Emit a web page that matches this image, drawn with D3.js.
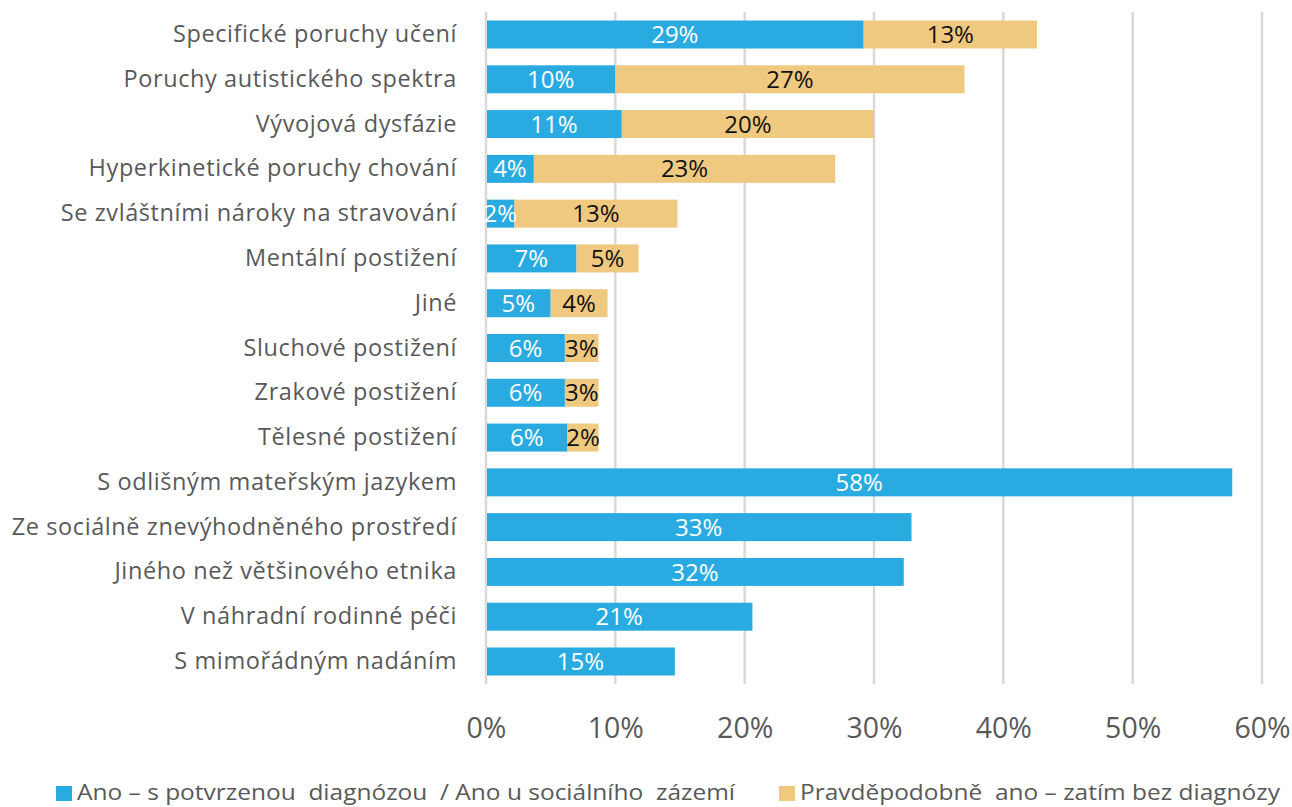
<!DOCTYPE html>
<html><head><meta charset="utf-8">
<script src="https://cdn.jsdelivr.net/npm/d3@7"></script>
<style>body{margin:0;background:#fff;}svg{display:block;}text{font-family:"Open Sans",sans-serif;}</style>
</head><body>
<svg id="c" width="1292" height="807"></svg>
<script>
const categories = ["Specifické poruchy učení","Poruchy autistického spektra","Vývojová dysfázie","Hyperkinetické poruchy chování","Se zvláštními nároky na stravování","Mentální postižení","Jiné","Sluchové postižení","Zrakové postižení","Tělesné postižení","S odlišným mateřským jazykem","Ze sociálně znevýhodněného prostředí","Jiného než většinového etnika","V náhradní rodinné péči","S mimořádným nadáním"];
const confirmed = [29.2,10.0,10.5,3.7,2.2,7.0,5.0,6.1,6.1,6.3,57.7,32.9,32.3,20.6,14.6];
const probable = [13.4,27.0,19.5,23.3,12.6,4.8,4.4,2.6,2.6,2.4,null,null,null,null,null];
const seriesNames = ["Ano – s potvrzenou  diagnózou  / Ano u sociálního  zázemí","Pravděpodobně  ano – zatím bez diagnózy"];
const ticks = [0,10,20,30,40,50,60];
const colors = ["#29abe2","#f0c981"];

const svg = d3.select("#c");
const x = d3.scaleLinear().domain([0,60]).range([486,1262]);
const y = d3.scaleBand().domain(categories).range([12,684]).paddingInner(0.375).paddingOuter(0.19);

svg.append("g").selectAll("line").data(ticks).join("line")
  .attr("x1",d=>x(d)).attr("x2",d=>x(d)).attr("y1",12).attr("y2",684)
  .attr("stroke","#d9d9d9").attr("stroke-width",2.5);

const xa = svg.append("g").attr("transform","translate(0,700)").call(d3.axisBottom(x).tickValues(ticks).tickFormat(d=>d+"%").tickSize(0).tickPadding(18));
xa.select(".domain").remove();
xa.selectAll("text").attr("font-size",28.5).attr("fill","#595959").style("font-family","'Open Sans',sans-serif");

const ya = svg.append("g").attr("transform","translate(457,0)").call(d3.axisLeft(y).tickSize(0).tickPadding(0));
ya.select(".domain").remove();
ya.selectAll("text").attr("font-size",23.5).attr("fill","#595959").attr("letter-spacing",0.6).style("font-family","'Open Sans',sans-serif");

const rows = categories.map((c,i)=>({c,a:confirmed[i],b:probable[i]}));
const g = svg.append("g");
g.selectAll("rect.a").data(rows).join("rect").attr("class","a")
  .attr("x",x(0)+1).attr("y",d=>y(d.c)).attr("width",d=>x(d.a)-x(0)-1).attr("height",y.bandwidth()).attr("fill",colors[0]);
g.selectAll("rect.b").data(rows.filter(d=>d.b!=null)).join("rect").attr("class","b")
  .attr("x",d=>x(d.a)).attr("y",d=>y(d.c)).attr("width",d=>x(d.a+d.b)-x(d.a)).attr("height",y.bandwidth()).attr("fill",colors[1]);

g.selectAll("text.a").data(rows).join("text").attr("class","a")
  .attr("x",d=>(x(0)+x(d.a))/2).attr("y",d=>y(d.c)+y.bandwidth()/2).attr("dy","0.36em")
  .attr("text-anchor","middle").attr("font-size",24).attr("fill","#fff").text(d=>Math.round(d.a)+"%");
g.selectAll("text.b").data(rows.filter(d=>d.b!=null)).join("text").attr("class","b")
  .attr("x",d=>(x(d.a)+x(d.a+d.b))/2).attr("y",d=>y(d.c)+y.bandwidth()/2).attr("dy","0.36em")
  .attr("text-anchor","middle").attr("font-size",24).attr("fill","#111").text(d=>Math.round(d.b)+"%");

const lg = svg.append("g");
const lx = [56,779], tw = [658,480];
seriesNames.forEach((s,i)=>{
  lg.append("rect").attr("x",lx[i]).attr("y",786).attr("width",16).attr("height",15).attr("fill",colors[i]);
  lg.append("text").attr("x",lx[i]+21).attr("y",800).attr("font-size",22).attr("fill","#595959")
    .attr("xml:space","preserve").attr("textLength",tw[i]).attr("lengthAdjust","spacingAndGlyphs").text(s);
});
</script>
</body></html>
